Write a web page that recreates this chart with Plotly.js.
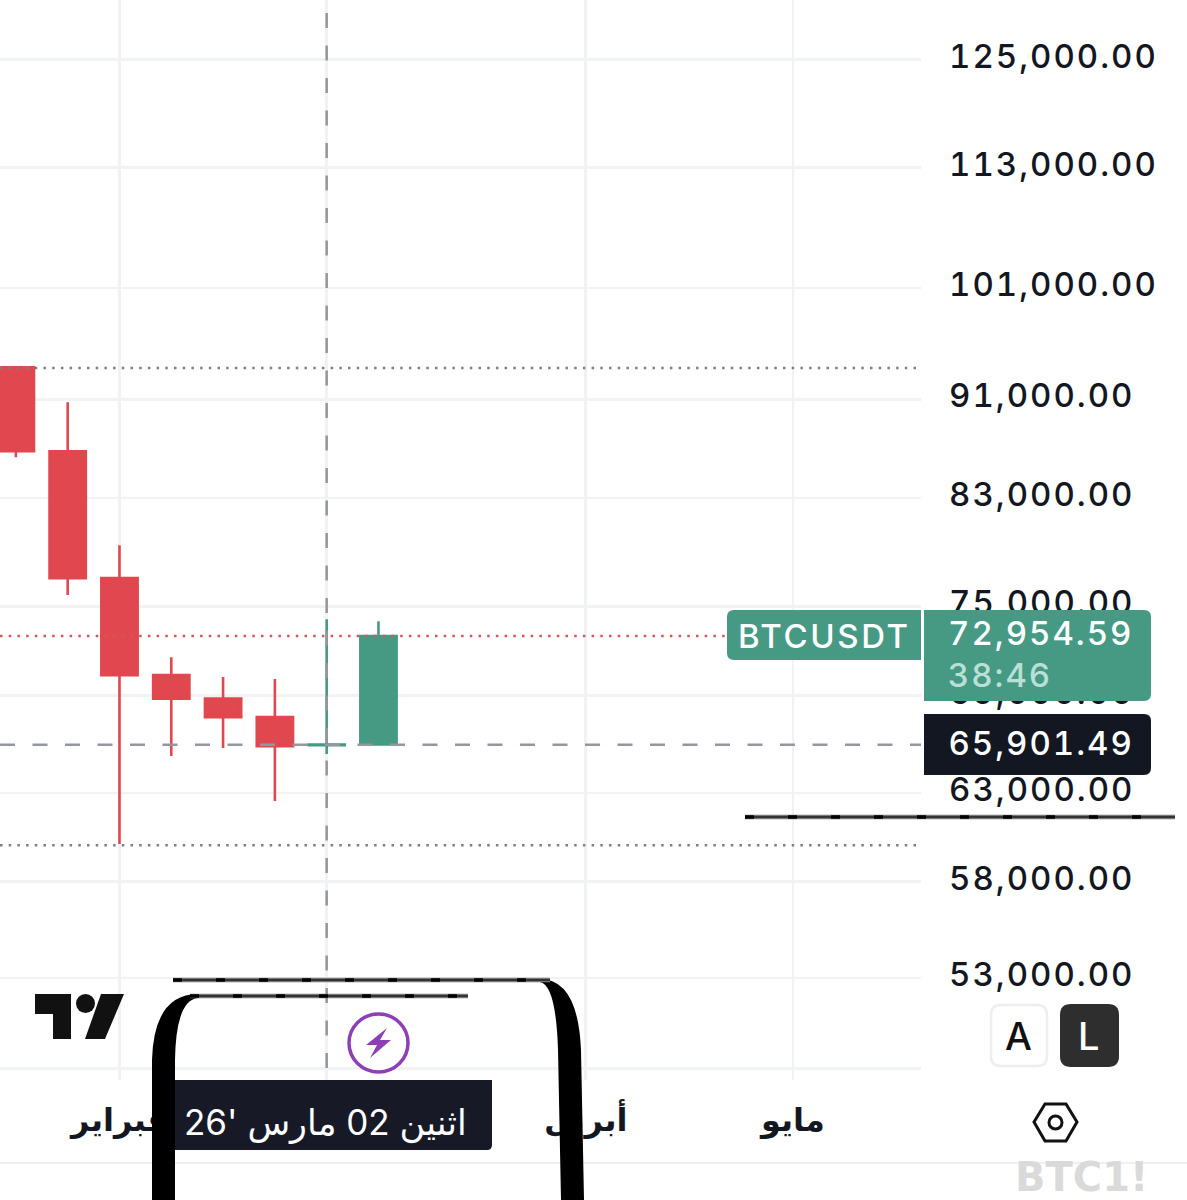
<!DOCTYPE html>
<html><head><meta charset="utf-8">
<script src="https://cdn.plot.ly/plotly-3.0.1.min.js"></script>
<style>
html,body{margin:0;padding:0;background:#fff;overflow:hidden}
.ytick text{letter-spacing:2px;font-variant-numeric:tabular-nums;font-feature-settings:"tnum"}
.yaxislayer-above{transform:translateY(-3.5px)}
.annotation[data-index="0"] text{letter-spacing:2.6px}
.annotation[data-index="1"] text,.annotation[data-index="2"] text,.annotation[data-index="3"] text{letter-spacing:2px;font-variant-numeric:tabular-nums;font-feature-settings:"tnum"}
</style></head><body><div id="chart" style="width:1187px;height:1200px"></div>
<script>
// ---- data ----
const weeks  = ['2026-01-19','2026-01-26','2026-02-02','2026-02-09','2026-02-16','2026-02-23','2026-03-02','2026-03-09'];
const opens  = [93775, 86700, 77006, 70340, 68810, 67633, 65880, 65920];
const highs  = [93775, 90760, 79415, 71530, 70210, 70078, 74110, 73975];
const lows   = [86220, 75795, 60070, 65215, 65703, 62531, 65338, 65850];
const closes = [86700, 77006, 70340, 68810, 67633, 65824, 65920, 72954.59];
const priceTicks  = [125000,113000,101000,91000,83000,75000,69000,63000,58000,53000,48700];
const priceLabels = ['125,000.00','113,000.00','101,000.00','91,000.00','83,000.00','75,000.00','69,000.00','63,000.00','58,000.00','53,000.00',''];
const monthTicks  = ['2026-02-02','2026-03-02','2026-04-06','2026-05-04'];
const monthLabels = ['فبراير','','أبريل','مايو'];
const lastPrice = 72954.59, crossPrice = 65901.49;
const swingHigh = 93700, swingLow = 60000;
const crossDate = '2026-03-02';

// ---- page geometry (chrome only) ----
const W = 921, H = 1080;
const px = v => v / W, py = v => 1 - v / H;
const red = '#e0474f', green = '#469a84', dark = '#131722', grey = '#95979e';
function poly(pts, fill){ return {type:'path',xref:'paper',yref:'paper',layer:'above',fillcolor:fill,line:{width:0},
  path:'M'+pts.map(p=>px(p[0])+' '+py(p[1])).join('L')+'Z'}; }
function rr(x0,y0,x1,y1,r,corners){
  const [a,b,c,d]=corners||[1,1,1,1]; const P=(x,y)=>px(x)+' '+py(y);
  return 'M'+P(x0+r*a,y0)+'L'+P(x1-r*b,y0)+(b?'Q'+P(x1,y0)+' '+P(x1,y0+r):'')+'L'+P(x1,y1-r*c)+(c?'Q'+P(x1,y1)+' '+P(x1-r,y1):'')
    +'L'+P(x0+r*d,y1)+(d?'Q'+P(x0,y1)+' '+P(x0,y1-r):'')+'L'+P(x0,y0+r*a)+(a?'Q'+P(x0,y0)+' '+P(x0+r,y0):'')+'Z';
}
function box(x0,y0,x1,y1,r,fill,corners,line){ return {type:'path',xref:'paper',yref:'paper',layer:'above',fillcolor:fill,
  line:line||{width:0},path:rr(x0,y0,x1,y1,r,corners)}; }
function seg(x0,y0,x1,y1,color,width,dash){ return {type:'line',xref:'paper',yref:'paper',layer:'above',
  x0:px(x0),x1:px(x1),y0:py(y0),y1:py(y1),line:{color,width,dash:dash||'solid'}}; }
function scribble(x0,y,x1){ return [seg(x0,y,x1,y,'#777',4.5), seg(x0,y,x1,y,'#333',2), seg(x0,y,x1,y,'#000',3.5,'9px,34px')]; }
function level(price,x1,color,dash,width){ return {type:'line',xref:'paper',yref:'y',layer:'above',x0:0,x1:px(x1),y0:price,y1:price,line:{color,width,dash}}; }
function blob(pathStr){ return {type:'path',xref:'paper',yref:'paper',layer:'above',fillcolor:'#000',line:{width:0},path:pathStr}; }
const P=(x,y)=>px(x)+' '+py(y);

const shapes = [
  level(swingHigh,916,'#7c7f88','2.5px,6.2px',2.5),
  level(swingLow,916,'#7c7f88','2.5px,6.2px',2.5),
  level(lastPrice,726,'#d9535c','2.5px,6.2px',2.5),
  level(crossPrice,921,grey,'15px,17.5px',2.5),
  {type:'line',xref:'x',yref:'paper',layer:'above',x0:crossDate,x1:crossDate,y0:py(1068),y1:1,line:{color:grey,width:2.5,dash:'15px,17.5px'}},
  seg(0,1163,1187,1163,'#eeeff2',2),
  box(727,610,921,660,7,green,[1,0,0,1]),
  box(924,610,1151,701,7,green,[0,1,1,0]),
  box(924,714,1151,775,7,dark,[0,1,1,0]),
  poly([[35,994],[71,994],[71,1039],[53,1039],[53,1014],[35,1014]],'#111'),
  {type:'circle',xref:'paper',yref:'paper',layer:'above',x0:px(76),x1:px(95),y0:py(994),y1:py(1013),fillcolor:'#111',line:{width:0}},
  poly([[101,994],[124,994],[105,1039],[85,1039]],'#111'),
  {type:'circle',xref:'paper',yref:'paper',layer:'above',x0:px(349),x1:px(408),y0:py(1014),y1:py(1072),fillcolor:'#fff',line:{color:'#8e3fb4',width:3.5}},
  poly([[387,1028],[366,1045],[377,1045],[370,1058],[391,1040],[380,1040]],'#8e3fb4'),
  box(174,1080,492,1150,5,'#171a26',[0,0,1,0]),
  blob('M'+P(198,994)+'Q'+P(154,994)+' '+P(152,1060)+'L'+P(152,1200)+'L'+P(175,1200)+'L'+P(175,1060)+'Q'+P(176,1000)+' '+P(198,998)+'Z'),
  blob('M'+P(540,979)+'Q'+P(578,979)+' '+P(581,1050)+'L'+P(584,1200)+'L'+P(561,1200)+'L'+P(558,1050)+'Q'+P(556,985)+' '+P(540,982)+'Z'),
  ...scribble(173,980,550), ...scribble(190,996,468), ...scribble(745,817,1175),
  box(991,1005,1047,1066,10,'#fff',null,{color:'#eeeeee',width:2.5}),
  box(1060,1004,1119,1067,11,'#2e2e2e'),
  {type:'path',xref:'paper',yref:'paper',layer:'above',line:{color:'#111',width:3},
   path:'M'+[[1034,1122],[1045,1104],[1066,1104],[1077,1122],[1066,1141],[1045,1141]].map(p=>P(p[0],p[1])).join('L')+'Z'},
  {type:'circle',xref:'paper',yref:'paper',layer:'above',x0:px(1049),x1:px(1062),y0:py(1116),y1:py(1129),line:{color:'#111',width:3}}
];

const num = 'Inter, Roboto, sans-serif', ar = '"DejaVu Sans", sans-serif';
function note(text,x,y,size,color,opts){ return Object.assign({text,xref:'paper',yref:'paper',x:px(x),y:py(y),xanchor:'left',yanchor:'middle',
  showarrow:false,borderpad:0,font:{family:num,size,color,weight:500}},opts||{}); }
const annotations = [
  note('BTCUSDT',746,636,33,'#fff'),
  note(lastPrice.toLocaleString('en-US',{minimumFractionDigits:2}),959,633,33,'#fff'),
  note('38:46',951.5,675,33,'#b9e0d6'),
  note(crossPrice.toLocaleString('en-US',{minimumFractionDigits:2}),961,743,33,'#fff'),
  note("اثنين 02 مارس '26",325,1122,35,'#fff',{xanchor:'center',font:{family:'Inter, "DejaVu Sans", sans-serif',size:35,color:'#fff'}}),
  note('A',1018,1036,38,'#111',{xanchor:'center',font:{family:num,size:38,color:'#111',weight:500}}),
  note('L',1089,1036,38,'#fff',{xanchor:'center',font:{family:num,size:38,color:'#fff',weight:500}}),
  note('BTC1!',1014,1177,40,'#dadada',{font:{family:'"DejaVu Sans", sans-serif',size:40,color:'#dadada',weight:700}})
];

const trace = {
  type:'candlestick', x:weeks, open:opens, high:highs, low:lows, close:closes,
  increasing:{line:{color:green,width:2.6},fillcolor:green},
  decreasing:{line:{color:red,width:2.6},fillcolor:red},
  whiskerwidth:0, hoverinfo:'skip', showlegend:false
};
const layout = {
  width:1187,height:1200,margin:{l:0,r:266,t:0,b:120},
  paper_bgcolor:'#fff',plot_bgcolor:'#fff',showlegend:false,boxgap:0,
  xaxis:{type:'date',range:['2026-01-16 20:30','2026-05-21 07:30'],rangeslider:{visible:false},
    tickmode:'array',tickvals:monthTicks,ticktext:monthLabels,ticklabelstandoff:18,
    tickfont:{family:ar,size:32,color:'#131722',weight:700},tickangle:0,
    showgrid:true,gridcolor:'#f1f2f4',gridwidth:2.5,zeroline:false,showline:false,ticks:''},
  yaxis:{type:'log',side:'right',range:[4.68295,5.12105],autorange:false,
    tickmode:'array',tickvals:priceTicks,ticktext:priceLabels,ticklabelstandoff:27,
    tickfont:{family:num,size:33,color:'#131722',weight:500},
    showgrid:true,gridcolor:'#f1f2f4',gridwidth:2.5,zeroline:false,showline:false,ticks:''},
  shapes, annotations
};
Plotly.newPlot('chart',[trace],layout,{displayModeBar:false,staticPlot:true});
</script></body></html>
